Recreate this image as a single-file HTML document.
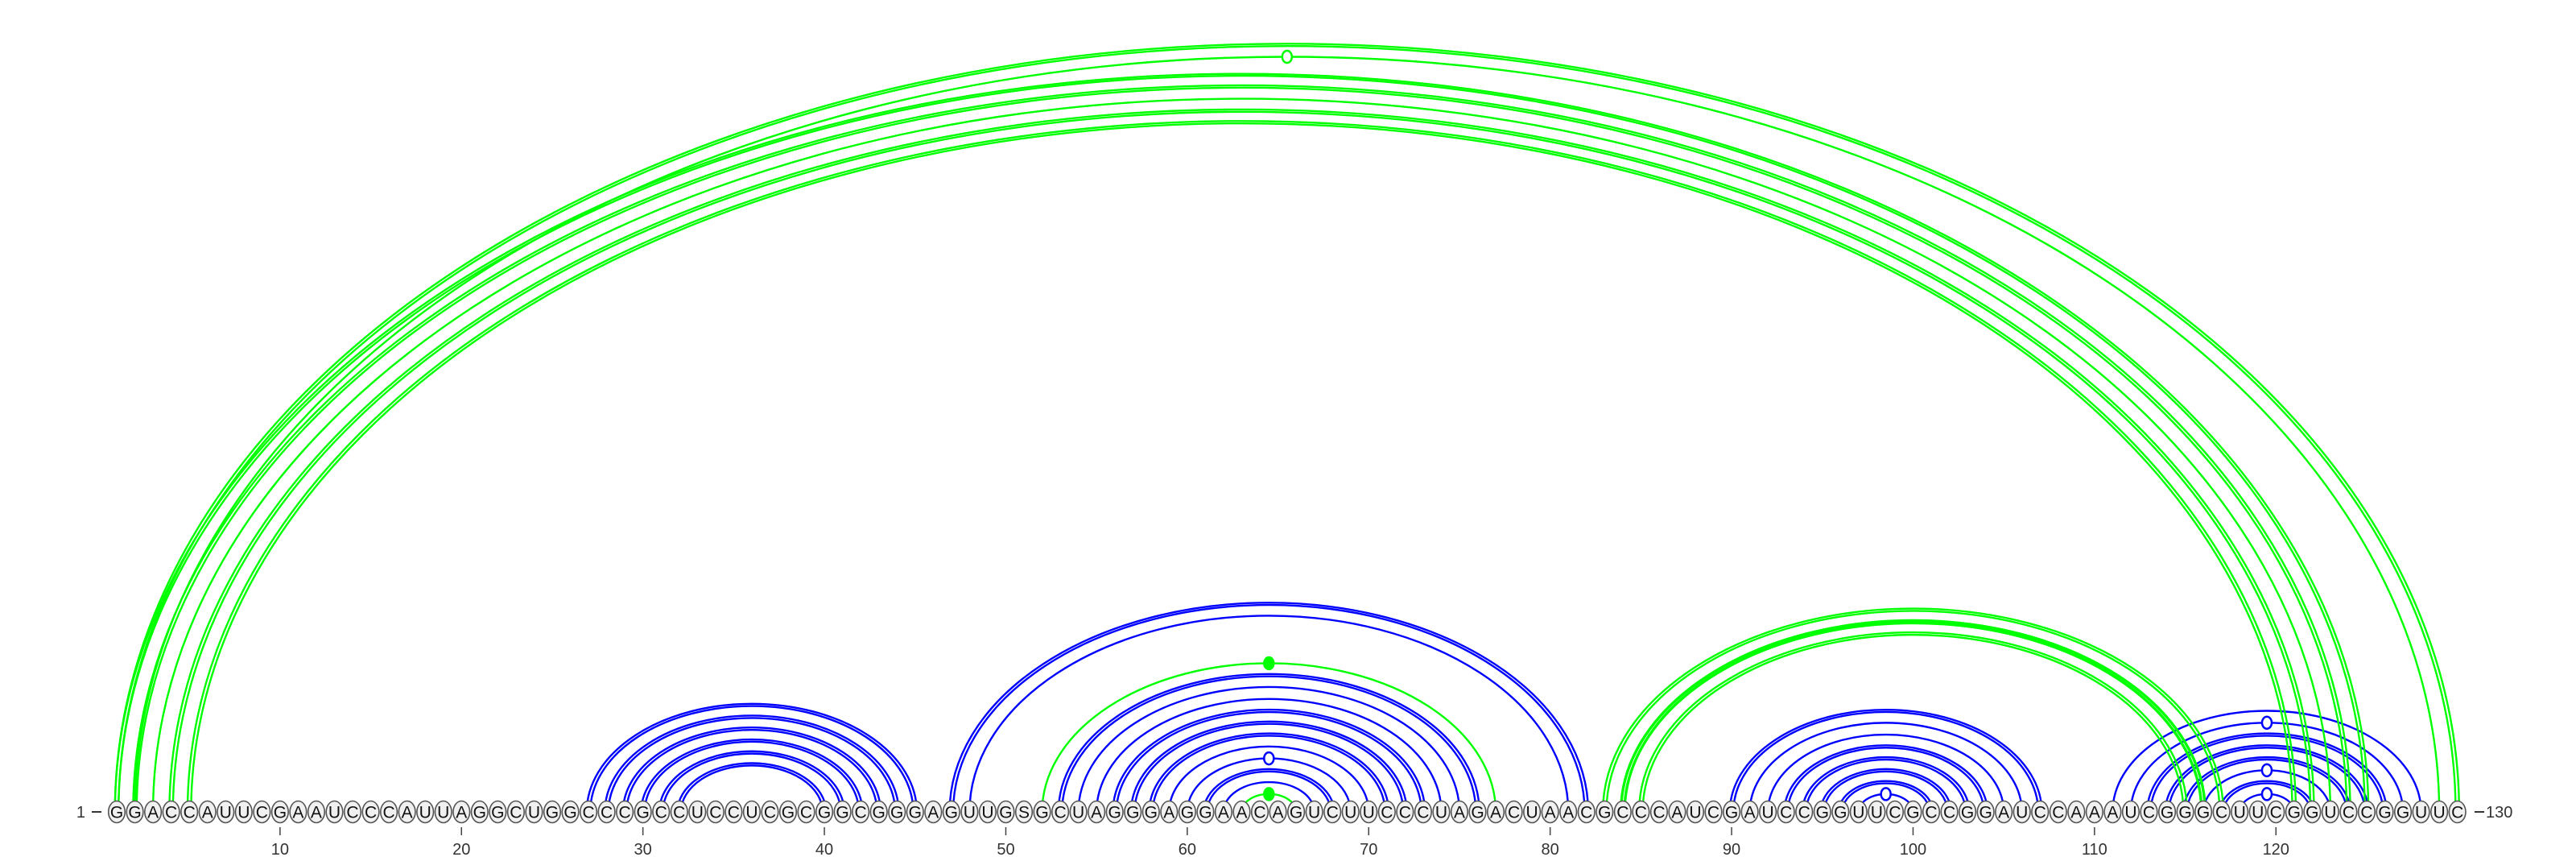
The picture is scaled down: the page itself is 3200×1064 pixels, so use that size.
<!DOCTYPE html>
<html><head><meta charset="utf-8"><style>
html,body{margin:0;padding:0;background:#fff;}
svg{display:block;}
text{font-family:"Liberation Sans",sans-serif;}
</style></head><body>
<svg id="chart" width="3200" height="1064" viewBox="0 0 3200 1064" xmlns="http://www.w3.org/2000/svg">
<g id="arcs-blue"></g>
<g id="arcs-green"></g>
<g id="bases"></g>
<g id="axis"></g>
</svg>
<script>
const sequence = "GGACCAUUCGAAUCCCAUUAGGCUGGCCCGCCUCCUCGCGGCGGGAGUUGSGCUAGGGAGGAACAGUCUUCCCUAGACUAACGCCCAUCGAUCCGGUUCGCCGGAUCCAAAUCGGGCUUCGGUCCGGUUC";
const pairStart = [27,28,29,30,31,32, 47,48, 53,54,55,56,57,58,59,60,61,62, 90,91,92,93,94,95,96,97, 111,112,113,114,115,116,117,118, 1,2,1,2,3,4,5, 83,84,85, 52,63];
const pairEnd   = [45,44,43,42,41,40, 82,81, 76,75,74,73,72,71,70,69,68,67, 107,106,105,104,103,102,101,100, 128,127,126,125,124,123,122,121, 130,129,125,124,123,122,121, 117,116,115, 77,66];
const pairColor = ["b","b","b","b","b","b", "b","b", "b","b","b","b","b","b","b","b","b","b", "b","b","b","b","b","b","b","b", "b","b","b","b","b","b","b","b", "g","g","g","g","g","g","g", "g","g","g", "g","g"];
const pairStyle = ["d","d","d","d","d","d", "d","s", "d","s","s","d","d","d","s","s","d","s", "d","s","s","d","d","d","d","s", "s","s","d","d","d","s","d","s", "d","s","d","d","s","d","d", "d","t","d", "s","s"];
const pairDot   = ["","","","","","", "","", "","","","","","","","o","","", "","","","","","","","o", "","o","","","","o","","o", "","o","","","","","", "","","", "f","f"];
const tickValues = [10,20,30,40,50,60,70,80,90,100,110,120];

const NS = "http://www.w3.org/2000/svg";
const X0 = 145, STEP = 22.54, BASE_Y = 1008, RATIO = 0.655;
function xPos(p){ return X0 + (p-1)*STEP; }
function mk(tag, attrs, parent){ const e=document.createElementNS(NS,tag); for(const k in attrs) e.setAttribute(k,attrs[k]); parent.appendChild(e); return e; }

const gB = document.getElementById('arcs-blue'), gG = document.getElementById('arcs-green');
function arcPath(x1,x2,d){
  const a=x1-d, b=x2+d, rx=(b-a)/2, ry=rx*RATIO;
  return "M"+a+","+BASE_Y+" A"+rx+","+ry+" 0 0 1 "+b+","+BASE_Y;
}
for(let i=0;i<pairStart.length;i++){
  const x1=xPos(pairStart[i]), x2=xPos(pairEnd[i]);
  const col = pairColor[i]==="b" ? "#0000ff" : "#00ff00";
  const par = pairColor[i]==="b" ? gB : gG;
  const offs = pairStyle[i]==="s" ? [0] : [-2.2,2.2];
  const w = pairStyle[i]==="t" ? 3.4 : 2.4;
  for(const d of offs){
    const p = mk('path',{d:arcPath(x1,x2,d),fill:"none",stroke:col,"stroke-width":w},par);
    
    
  }
  if(pairDot[i]){
    const cx=(x1+x2)/2, cy=BASE_Y-(x2-x1)/2*RATIO;
    const dot = mk('ellipse',{cx:cx,cy:cy,rx:6,ry:7.5,fill:pairDot[i]==="f"?col:"#fff",stroke:col,"stroke-width":2.5},par);
    
    
  }
}

const gS = document.getElementById('bases');
for(let i=0;i<sequence.length;i++){
  const cx = xPos(i+1);
  const g = mk('g',{},gS);
  
  
  mk('ellipse',{cx:cx,cy:BASE_Y,rx:10.3,ry:13.5,fill:"#f0f0f0",stroke:"#555","stroke-width":1.6},g);
  const t = mk('text',{x:cx,y:BASE_Y+7.5,"text-anchor":"middle","font-size":21,fill:"#111"},g);
  t.textContent = sequence[i];
}

const gA = document.getElementById('axis');
for(const v of tickValues){
  const x = xPos(v);
  const l = mk('line',{x1:x,y1:1027,x2:x,y2:1037,stroke:"#444","stroke-width":1.5},gA);
  
  
  const t = mk('text',{x:x,y:1061,"text-anchor":"middle","font-size":20,fill:"#333"},gA);
  
  
  t.textContent = v;
}
const sl = mk('text',{x:106,y:1015,"text-anchor":"end","font-size":20,fill:"#333"},gA);


sl.textContent = "1";
mk('line',{x1:114,y1:1008,x2:126,y2:1008,stroke:"#333","stroke-width":2},gA);
mk('line',{x1:3074,y1:1008,x2:3086,y2:1008,stroke:"#333","stroke-width":2},gA);
const el = mk('text',{x:3088,y:1015,"text-anchor":"start","font-size":20,fill:"#333"},gA);


el.textContent = sequence.length;
</script>
</body></html>
